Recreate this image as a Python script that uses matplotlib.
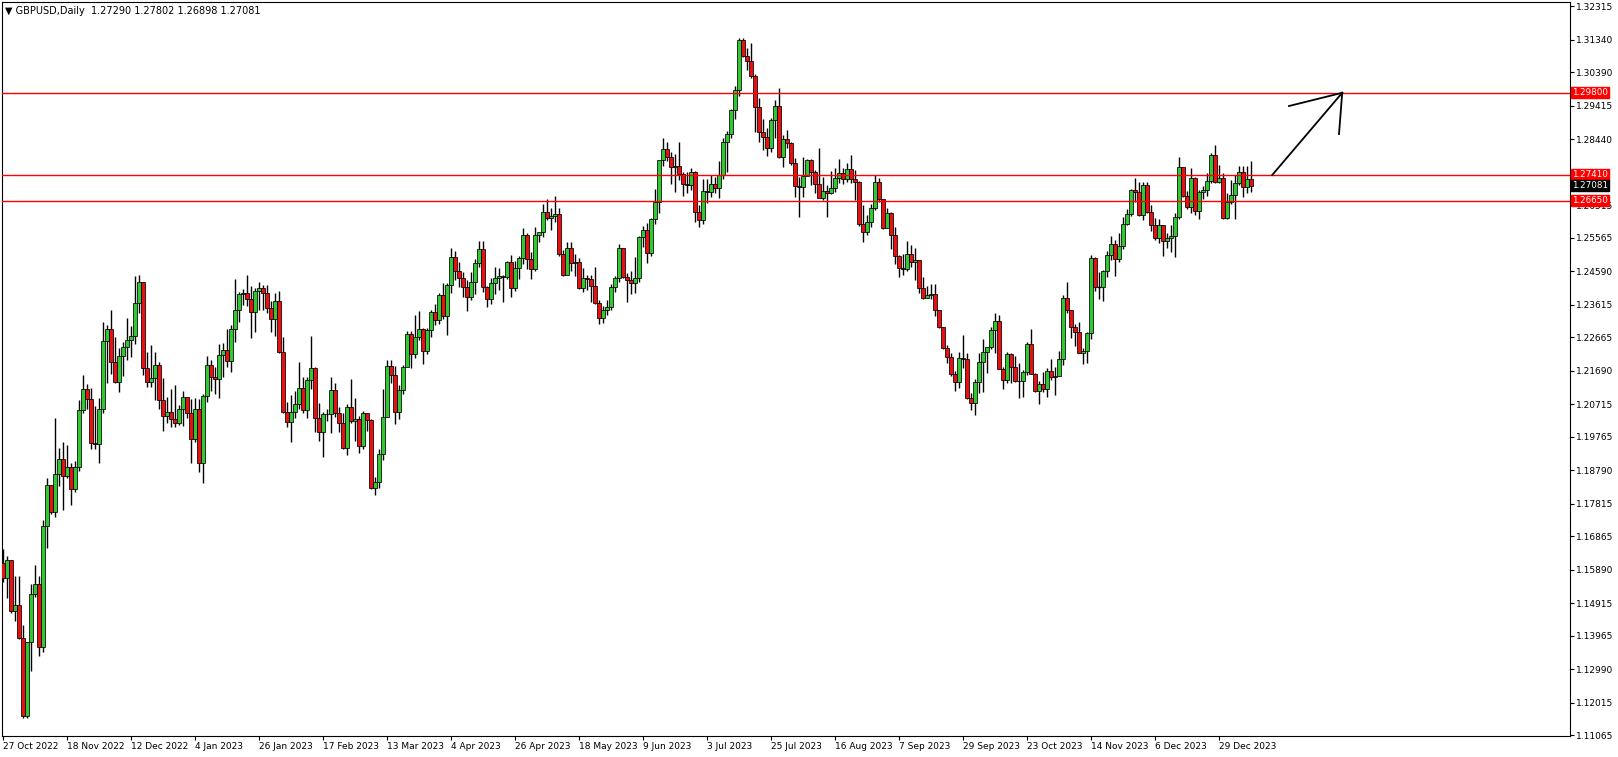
import numpy as np
import matplotlib
matplotlib.use("Agg")
import matplotlib.pyplot as plt
from matplotlib.patches import Rectangle

# GBPUSD daily bars, 27 Oct 2022 onward (open = previous close)
first_open = 1.16103
closes = [
    1.15647, 1.16171, 1.14705, 1.14860, 1.13899, 1.11636, 1.13782, 1.15181, 1.15472, 1.13637,
    1.17161, 1.18356, 1.17589, 1.18676, 1.19133, 1.18637, 1.18880, 1.18239, 1.18880, 1.20540,
    1.21152, 1.20880, 1.19579, 1.19560, 1.20570, 1.22560, 1.22900, 1.21958, 1.21356, 1.22113,
    1.22376, 1.22600, 1.22700, 1.23657, 1.24269, 1.21764, 1.21376, 1.21492, 1.21851, 1.20832,
    1.20385, 1.20502, 1.20298, 1.20181, 1.20570, 1.20929, 1.20453, 1.19696, 1.20570, 1.18997,
    1.20958, 1.21851, 1.21502, 1.21463, 1.22143, 1.22288, 1.21968, 1.22900, 1.23453, 1.23929,
    1.23958, 1.23774, 1.23395, 1.24007, 1.24114, 1.23949, 1.23512, 1.23191, 1.23716, 1.22249,
    1.20492, 1.20210, 1.20502, 1.20715, 1.21181, 1.20540, 1.21414, 1.21774, 1.20327, 1.19900,
    1.20424, 1.20434, 1.21123, 1.20473, 1.20162, 1.19434, 1.20628, 1.20240, 1.20278, 1.19502,
    1.20463, 1.20269, 1.18288, 1.18463, 1.19260, 1.20347, 1.21833, 1.21561, 1.20483, 1.21134,
    1.21794, 1.22765, 1.22172, 1.22668, 1.22901, 1.22270, 1.22872, 1.23396, 1.23163, 1.23901,
    1.23299, 1.24182, 1.24998, 1.24610, 1.24386, 1.24144, 1.23843, 1.24270, 1.24823, 1.25231,
    1.24144, 1.23775, 1.24241, 1.24386, 1.24445, 1.24425, 1.24853, 1.24096, 1.24678, 1.24970,
    1.25639, 1.24940, 1.24669, 1.25639, 1.25727, 1.26309, 1.26154, 1.26193, 1.26251, 1.25105,
    1.24474, 1.25261, 1.24843, 1.24853, 1.24096, 1.24387, 1.24367, 1.24164, 1.23659, 1.23222,
    1.23464, 1.23542, 1.24125, 1.24387, 1.25261, 1.24435, 1.24329, 1.24242, 1.24387, 1.25591,
    1.25795, 1.25116, 1.26116, 1.26601, 1.27825, 1.28145, 1.27912, 1.27621, 1.27650, 1.27436,
    1.27126, 1.27097, 1.27485, 1.26329, 1.26096, 1.26931, 1.26902, 1.27126, 1.27009, 1.27388,
    1.28359, 1.28592, 1.29281, 1.29864, 1.31320, 1.30874, 1.30718, 1.30291, 1.29369, 1.28641,
    1.28495, 1.28194, 1.28990, 1.29408, 1.27932, 1.28437, 1.28320, 1.27738, 1.27077, 1.27058,
    1.27378, 1.27825, 1.27475, 1.27145, 1.26737, 1.26931, 1.26864, 1.27019, 1.27301, 1.27446,
    1.27291, 1.27563, 1.27291, 1.27203, 1.25980, 1.25747, 1.26019, 1.26436, 1.27194, 1.26698,
    1.25843, 1.26280, 1.25649, 1.25047, 1.24697, 1.24649, 1.25095, 1.24860, 1.24915, 1.24095,
    1.23823, 1.23891, 1.23920, 1.23464, 1.22969, 1.22348, 1.22105, 1.21590, 1.21357, 1.22056,
    1.22027, 1.20891, 1.20765, 1.21367, 1.21949, 1.22250, 1.22390, 1.22881, 1.23134, 1.21745,
    1.21425, 1.22182, 1.21813, 1.21396, 1.21406, 1.21648, 1.22464, 1.21610, 1.21114, 1.21299,
    1.21163, 1.21677, 1.21503, 1.21541, 1.22027, 1.23814, 1.23454, 1.22979, 1.22833, 1.22221,
    1.22260, 1.22784, 1.24969, 1.24144, 1.24144, 1.24600, 1.25066, 1.25377, 1.24940, 1.25328,
    1.25960, 1.26261, 1.26950, 1.26902, 1.26222, 1.27106, 1.26310, 1.25941, 1.25572, 1.25931,
    1.25475, 1.25562, 1.25620, 1.26164, 1.27630, 1.26776, 1.26455, 1.27300, 1.26358, 1.26912,
    1.26960, 1.27222, 1.27989, 1.27183, 1.27300, 1.26135, 1.26620, 1.26815, 1.27174, 1.27475,
    1.27057, 1.27290, 1.27081,
]
highs = [
    1.16501, 1.16297, 1.16171, 1.15715, 1.15715, 1.14287, 1.13800, 1.15472, 1.16035, 1.15715,
    1.17346, 1.18560, 1.18336, 1.20307, 1.19434, 1.19608, 1.19531, 1.18997, 1.19065, 1.20841,
    1.21560, 1.21298, 1.21201, 1.20667, 1.20890, 1.23104, 1.23017, 1.23463, 1.22686, 1.22347,
    1.22541, 1.23220, 1.22997, 1.24454, 1.24483, 1.24270, 1.22249, 1.22444, 1.22249, 1.21958,
    1.21473, 1.20939, 1.21162, 1.21278, 1.20696, 1.21113, 1.20890, 1.20871, 1.20890, 1.20861,
    1.21016, 1.22123, 1.22007, 1.21813, 1.22473, 1.22492, 1.22900, 1.23026, 1.24366, 1.23997,
    1.24065, 1.24483, 1.24162, 1.24094, 1.24289, 1.24191, 1.24191, 1.23725, 1.23949, 1.24007,
    1.22667, 1.20793, 1.20987, 1.21113, 1.21939, 1.21521, 1.21521, 1.22706, 1.21813, 1.20744,
    1.20482, 1.20570, 1.21502, 1.21346, 1.20647, 1.20453, 1.20715, 1.21444, 1.20890, 1.20385,
    1.20521, 1.20424, 1.20278, 1.18608, 1.19415, 1.21163, 1.22007, 1.22007, 1.21833, 1.21279,
    1.21862, 1.22852, 1.22852, 1.23318, 1.23435, 1.22949, 1.22930, 1.23464, 1.23629, 1.23949,
    1.24241, 1.24241, 1.25260, 1.25192, 1.24852, 1.24561, 1.24338, 1.24581, 1.24950, 1.25484,
    1.25474, 1.24173, 1.24406, 1.24726, 1.24678, 1.24483, 1.24892, 1.25067, 1.24892, 1.25047,
    1.25843, 1.25698, 1.25144, 1.25892, 1.25746, 1.26542, 1.26698, 1.26426, 1.26795, 1.26426,
    1.25212, 1.25455, 1.25455, 1.25105, 1.24970, 1.24678, 1.24484, 1.24484, 1.24707, 1.23756,
    1.23591, 1.23756, 1.24212, 1.24445, 1.25377, 1.25280, 1.24533, 1.24601, 1.25018, 1.25630,
    1.25912, 1.25990, 1.26135, 1.26990, 1.27834, 1.28466, 1.28349, 1.28058, 1.28000, 1.28359,
    1.27495, 1.27495, 1.27592, 1.27514, 1.26524, 1.27281, 1.27281, 1.27398, 1.27339, 1.27805,
    1.28466, 1.28679, 1.29320, 1.29990, 1.31379, 1.31379, 1.31087, 1.31233, 1.30350, 1.29631,
    1.29019, 1.28757, 1.29048, 1.29582, 1.29922, 1.28563, 1.28709, 1.28369, 1.27883, 1.27349,
    1.27912, 1.27873, 1.27854, 1.27543, 1.28174, 1.27349, 1.27106, 1.27524, 1.27592, 1.27854,
    1.27611, 1.27757, 1.27980, 1.27543, 1.27223, 1.26524, 1.26232, 1.26553, 1.27388, 1.27300,
    1.26620, 1.26426, 1.26329, 1.25892, 1.25066, 1.25095, 1.25474, 1.25358, 1.25260, 1.24921,
    1.24435, 1.24163, 1.24222, 1.24222, 1.23386, 1.22979, 1.22445, 1.22202, 1.21687, 1.22250,
    1.22736, 1.22221, 1.21037, 1.21444, 1.22221, 1.22610, 1.22396, 1.22979, 1.23367, 1.23318,
    1.21813, 1.22250, 1.22202, 1.22124, 1.21930, 1.21716, 1.22542, 1.22901, 1.21619, 1.21406,
    1.21668, 1.21784, 1.22037, 1.21813, 1.22270, 1.23901, 1.24290, 1.23464, 1.23047, 1.23105,
    1.22348, 1.22813, 1.25066, 1.25018, 1.24581, 1.24629, 1.25192, 1.25620, 1.25503, 1.25697,
    1.26163, 1.26396, 1.26980, 1.27319, 1.27203, 1.27203, 1.27203, 1.26523, 1.26135, 1.26106,
    1.25892, 1.25698, 1.25941, 1.26281, 1.27912, 1.27620, 1.26941, 1.27591, 1.27349, 1.26960,
    1.27077, 1.27446, 1.28028, 1.28271, 1.27688, 1.27446, 1.26863, 1.27252, 1.27397, 1.27659,
    1.27659, 1.27659, 1.27802,
]
lows = [
    1.15530, 1.15083, 1.14647, 1.14413, 1.13870, 1.11568, 1.11568, 1.12957, 1.15113, 1.13394,
    1.13510, 1.16521, 1.17521, 1.17443, 1.18336, 1.17637, 1.18569, 1.17783, 1.18171, 1.18764,
    1.20453, 1.20589, 1.19424, 1.19424, 1.19016, 1.20453, 1.21346, 1.21599, 1.21327, 1.21084,
    1.21541, 1.22007, 1.22084, 1.22473, 1.23366, 1.21570, 1.21210, 1.21210, 1.20842, 1.20570,
    1.19948, 1.20181, 1.20045, 1.20045, 1.20113, 1.20094, 1.20327, 1.19016, 1.19628, 1.18754,
    1.18433, 1.20783, 1.21113, 1.21007, 1.20890, 1.21521, 1.21793, 1.21667, 1.22541, 1.23123,
    1.23609, 1.23589, 1.22638, 1.22832, 1.23463, 1.23463, 1.23366, 1.22832, 1.22706, 1.22220,
    1.20473, 1.20065, 1.19628, 1.20307, 1.20579, 1.20473, 1.20327, 1.21172, 1.19919, 1.19657,
    1.19171, 1.20240, 1.19870, 1.20356, 1.19919, 1.19424, 1.19249, 1.20162, 1.19657, 1.19288,
    1.19405, 1.19948, 1.18239, 1.18065, 1.18269, 1.19104, 1.20483, 1.21347, 1.20133, 1.20279,
    1.21027, 1.21862, 1.21784, 1.22075, 1.22590, 1.21901, 1.22192, 1.22687, 1.23027, 1.23046,
    1.23202, 1.22736, 1.23949, 1.24328, 1.24134, 1.23852, 1.23445, 1.23746, 1.23920, 1.24717,
    1.23979, 1.23542, 1.23648, 1.23920, 1.24037, 1.23687, 1.24358, 1.23843, 1.24018, 1.24358,
    1.24795, 1.24649, 1.24358, 1.24610, 1.25455, 1.25601, 1.26076, 1.25785, 1.26018, 1.25037,
    1.24455, 1.24474, 1.24600, 1.24455, 1.24076, 1.23999, 1.24047, 1.23707, 1.23630, 1.23066,
    1.23076, 1.23319, 1.23464, 1.23999, 1.24290, 1.24387, 1.23688, 1.23921, 1.23951, 1.24271,
    1.25310, 1.24844, 1.25028, 1.25980, 1.26281, 1.27669, 1.27805, 1.27126, 1.26893, 1.27242,
    1.26795, 1.26863, 1.26961, 1.26038, 1.25892, 1.25970, 1.26572, 1.26767, 1.26863, 1.26718,
    1.27281, 1.27475, 1.28466, 1.29019, 1.29708, 1.30845, 1.30456, 1.30233, 1.28660, 1.28369,
    1.28126, 1.27951, 1.28077, 1.28466, 1.27883, 1.27621, 1.28174, 1.27689, 1.26767, 1.26184,
    1.26747, 1.27398, 1.27106, 1.26864, 1.26718, 1.26669, 1.26164, 1.26844, 1.26912, 1.27155,
    1.27136, 1.27204, 1.27174, 1.26669, 1.25922, 1.25456, 1.25650, 1.25893, 1.26378, 1.26620,
    1.25814, 1.25843, 1.25241, 1.24804, 1.24435, 1.24484, 1.24610, 1.24707, 1.24338, 1.23969,
    1.23775, 1.23804, 1.23775, 1.23289, 1.22930, 1.22318, 1.21930, 1.21542, 1.21114, 1.21202,
    1.21765, 1.20872, 1.20551, 1.20405, 1.21056, 1.21085, 1.21639, 1.22318, 1.22202, 1.21736,
    1.21153, 1.21328, 1.21328, 1.21376, 1.20910, 1.20939, 1.21571, 1.21590, 1.21085, 1.20716,
    1.21066, 1.20920, 1.21425, 1.20988, 1.21541, 1.21862, 1.23386, 1.22639, 1.22425, 1.22202,
    1.21881, 1.21930, 1.22610, 1.24027, 1.23775, 1.23736, 1.24435, 1.24921, 1.24464, 1.24853,
    1.25231, 1.25930, 1.26203, 1.26620, 1.26203, 1.26086, 1.26281, 1.25776, 1.25504, 1.25426,
    1.25038, 1.25261, 1.25164, 1.24999, 1.26106, 1.26747, 1.26397, 1.26281, 1.26232, 1.26106,
    1.26688, 1.26785, 1.27154, 1.27154, 1.27154, 1.26106, 1.26106, 1.26552, 1.26106, 1.27106,
    1.26766, 1.26863, 1.26898,
]

date_labels = ["27 Oct 2022", "18 Nov 2022", "12 Dec 2022", "4 Jan 2023", "26 Jan 2023",
               "17 Feb 2023", "13 Mar 2023", "4 Apr 2023", "26 Apr 2023", "18 May 2023",
               "9 Jun 2023", "3 Jul 2023", "25 Jul 2023", "16 Aug 2023", "7 Sep 2023",
               "29 Sep 2023", "23 Oct 2023", "14 Nov 2023", "6 Dec 2023", "29 Dec 2023"]
# 1.27465 sits fully behind the level labels, so it gets no text
price_ticks = [1.32315, 1.31340, 1.30390, 1.29415, 1.28440, 1.27465, 1.26515, 1.25565,
               1.24590, 1.23615, 1.22665, 1.21690, 1.20715, 1.19765, 1.18790, 1.17815,
               1.16865, 1.15890, 1.14915, 1.13965, 1.12990, 1.12015, 1.11065]
levels = [1.29800, 1.27410, 1.26650]
last_price = 1.27081

# hand-drawn arrow (bar index, price)
arrow_start = (317.3, 1.27396)
arrow_tip = (334.8, 1.29792)
arrow_head = [(321.5, 1.29407), (334.0, 1.28591)]

bull = "#32C832"
bear = "#E81010"

W, H = 1618, 757
fig = plt.figure(figsize=(W / 100, H / 100), dpi=100)
ax = fig.add_axes([2 / W, (H - 736) / H, 1568 / W, 734 / H])

opens = [first_open] + closes[:-1]
for i, (o, h, l, c) in enumerate(zip(opens, highs, lows, closes)):
    ax.vlines(i, min(l, o, c), max(h, o, c), color="black", lw=1.0, zorder=2)
    if abs(c - o) < 1e-5:
        ax.hlines(c, i - 0.4, i + 0.4, color="black", lw=1.0, zorder=3)
    else:
        ax.add_patch(Rectangle((i - 0.38, min(o, c)), 0.76, abs(c - o),
                               facecolor=bull if c > o else bear,
                               edgecolor="black", lw=0.55, zorder=3))

for lv in levels:
    ax.axhline(lv, color="#FF0000", lw=1.0, zorder=4)

ax.plot([arrow_start[0], arrow_tip[0]], [arrow_start[1], arrow_tip[1]],
        color="black", lw=1.3, zorder=5)
for hx, hy in arrow_head:
    ax.plot([hx, arrow_tip[0]], [hy, arrow_tip[1]], color="black", lw=1.3, zorder=5)

ax.set_xlim(-0.25, 391.75)
ax.set_ylim(1.11049, 1.32438)

ax.set_xticks(range(0, 16 * len(date_labels), 16))
ax.set_xticklabels(date_labels, ha="left")
ax.yaxis.tick_right()
ax.set_yticks(price_ticks)
ax.set_yticklabels(["" if t == 1.27465 else f"{t:.5f}" for t in price_ticks])
ax.tick_params(axis="both", labelsize=6.5, length=3, width=0.8, pad=1.5, colors="black")
for s in ax.spines.values():
    s.set_color("black")
    s.set_linewidth(0.8)

def price_label(y, text, bg):
    ax.text(1.0015, y, text, transform=ax.get_yaxis_transform(), ha="left", va="center",
            fontsize=6.3, color="white", clip_on=False, zorder=10,
            bbox=dict(boxstyle="square,pad=0.12", facecolor=bg, edgecolor=bg))

price_label(levels[0], "1.29800", "#FF0000")
price_label(levels[1], "1.27410", "#FF0000")
price_label(last_price, "1.27081", "black")
price_label(levels[2], "1.26650", "#FF0000")

fig.text(5 / W, 1 - 11 / H, "\u25BC GBPUSD,Daily  1.27290 1.27802 1.26898 1.27081",
         fontsize=7, va="center", ha="left")

fig.savefig("out.png", dpi=100, facecolor="white")
